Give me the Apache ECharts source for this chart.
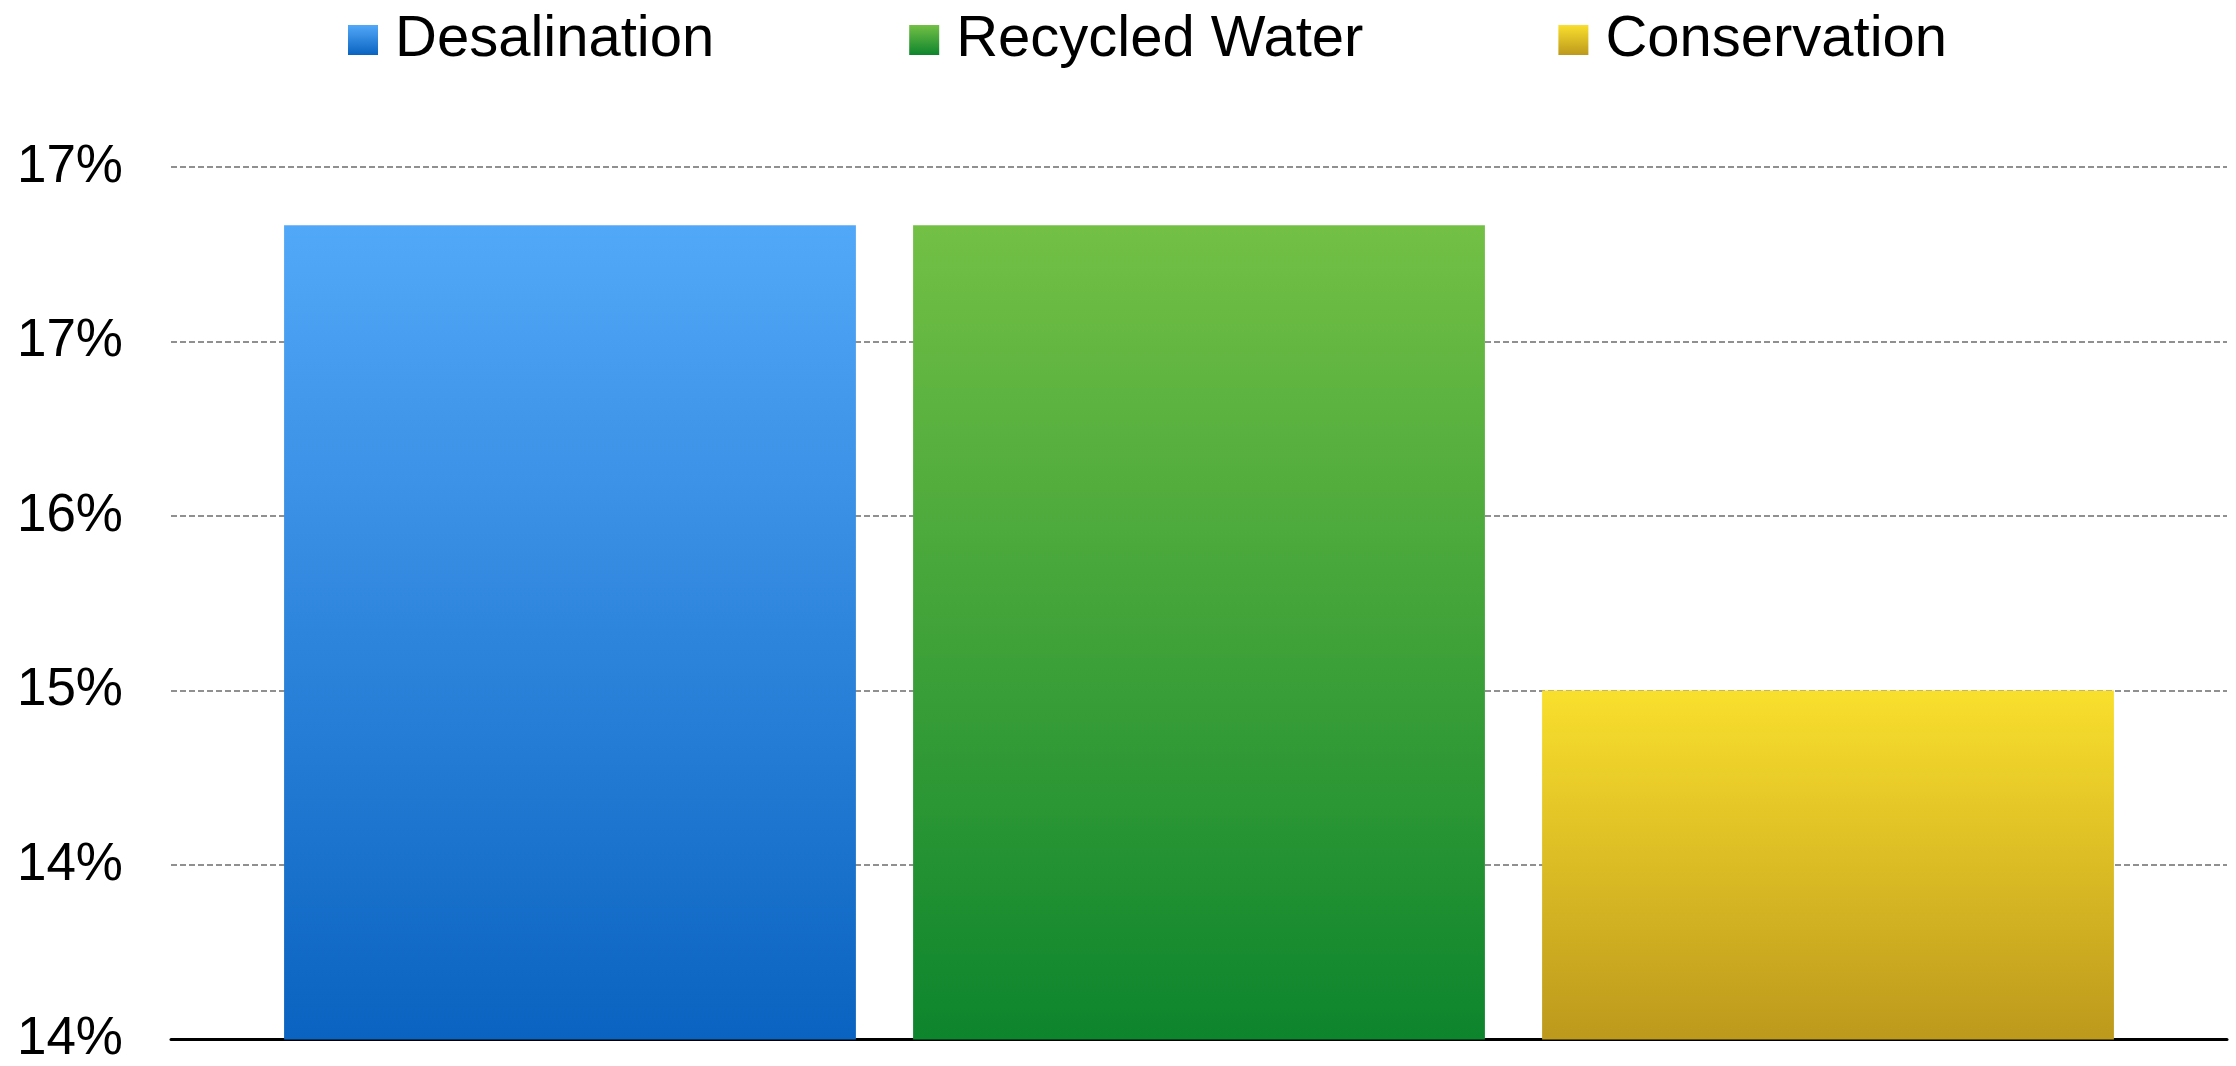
<!DOCTYPE html>
<html>
<head>
<meta charset="utf-8">
<script src="https://cdn.jsdelivr.net/npm/echarts@6/dist/echarts.min.js"></script>
<style>
  html, body { margin: 0; padding: 0; background: #fff; }
  #chart { width: 2236px; height: 1066px; }
</style>
</head>
<body>
<div id="chart"></div>
<script>
// one category, three series side by side
const categories = [''];
const seriesNames = ['Desalination', 'Recycled Water', 'Conservation'];
const desalination = [17];
const recycledWater = [17];
const conservation = [15];

// top / bottom colours of each bar gradient
const gradients = [
  ['#52a8f8', '#0a63c0'],
  ['#73c045', '#0d852d'],
  ['#f9df2d', '#bd991c']
];

function grad(pair) {
  return new echarts.graphic.LinearGradient(0, 0, 0, 1, [
    { offset: 0, color: pair[0] },
    { offset: 1, color: pair[1] }
  ]);
}

const seriesData = [desalination, recycledWater, conservation];

const series = seriesNames.map((name, i) => ({
  name: name,
  type: 'bar',
  data: seriesData[i],
  barGap: '10%',
  barCategoryGap: '11%',
  itemStyle: { color: grad(gradients[i]) }
}));

const chart = echarts.init(document.getElementById('chart'), null, { renderer: 'canvas' });

chart.setOption({
  backgroundColor: '#ffffff',
  animation: false,
  textStyle: { fontFamily: 'Liberation Sans, Arial, sans-serif' },
  legend: {
    top: 4,
    left: 343,
    itemWidth: 30,
    itemHeight: 30,
    itemGap: 195,
    icon: 'rect',
    textStyle: {
      fontSize: 58,
      color: '#000',
      lineHeight: 62,
      padding: [0, 0, 0, 12]
    },
    data: seriesNames
  },
  grid: {
    left: 171,
    right: 9,
    top: 167,
    bottom: 23
  },
  xAxis: {
    type: 'category',
    data: categories,
    axisLine: { show: true, lineStyle: { color: '#000', width: 3 } },
    axisTick: { show: false },
    axisLabel: { show: false }
  },
  yAxis: {
    type: 'value',
    min: 13.5,
    max: 17.25,
    interval: 0.75,
    axisLine: { show: false },
    axisTick: { show: false },
    axisLabel: {
      fontSize: 53,
      color: '#000',
      margin: 48,
      formatter: v => Math.round(v) + '%'
    },
    splitLine: {
      lineStyle: { color: '#909090', width: 2, type: [6, 3] }
    }
  },
  series: series
});
</script>
</body>
</html>
